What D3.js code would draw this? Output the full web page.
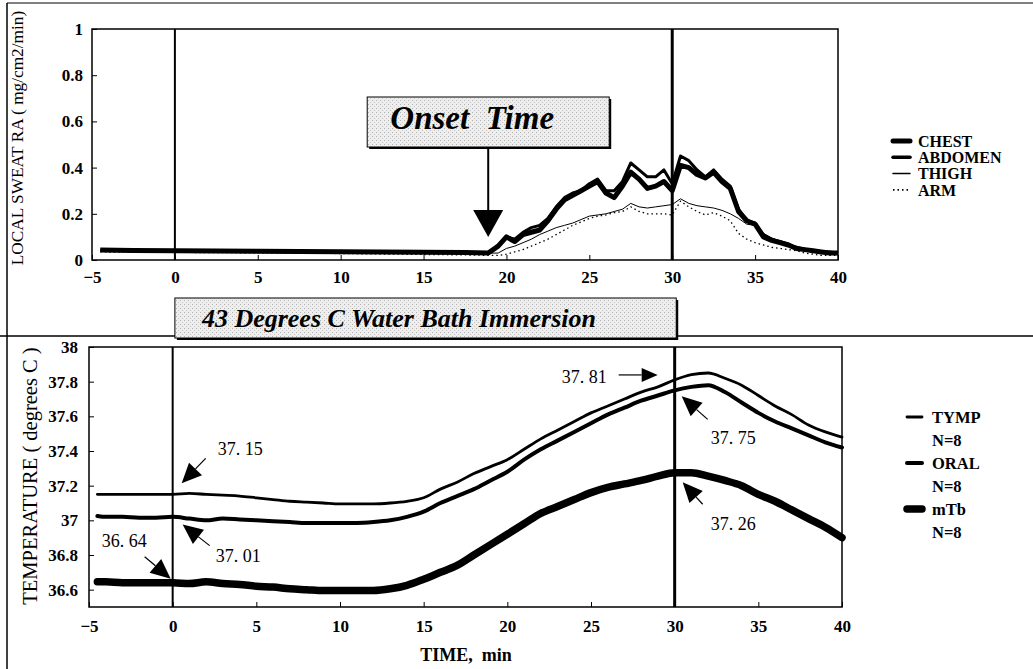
<!DOCTYPE html>
<html>
<head>
<meta charset="utf-8">
<script src="https://cdn.jsdelivr.net/npm/d3@7/dist/d3.min.js"></script>
<style>
  body { margin: 0; background: #fff; }
  svg { display: block; }
</style>
</head>
<body>
<div id="chart"></div>
<script>
// ---------- datos ----------
const sweatTime = [-4.5, -2.5, 0, 2.5, 5, 7.5, 10, 12.5, 15, 17.5, 18.9,
  19.5, 20, 20.5, 21, 21.5, 22, 22.5, 23, 23.5, 24, 24.5, 25, 25.5, 26, 26.5, 27, 27.5, 28, 28.5, 29,
  29.5, 30, 30.5, 31, 31.5, 32, 32.5, 33, 33.5, 34, 34.5, 35, 35.5, 36, 36.5, 37, 37.5, 38, 38.5, 39, 39.5, 40];

const chest = [0.043, 0.041, 0.040, 0.039, 0.038, 0.037, 0.036, 0.035, 0.034, 0.033, 0.030,
  0.06, 0.10, 0.08, 0.11, 0.12, 0.13, 0.17, 0.22, 0.26, 0.28, 0.30, 0.32, 0.34, 0.29, 0.27, 0.32, 0.38, 0.35, 0.31, 0.32,
  0.34, 0.30, 0.41, 0.40, 0.37, 0.355, 0.38, 0.34, 0.31, 0.21, 0.17, 0.155, 0.10, 0.085, 0.075, 0.065, 0.05, 0.045, 0.04, 0.035, 0.03, 0.03];
const abdomen = [0.042, 0.040, 0.039, 0.038, 0.037, 0.036, 0.035, 0.034, 0.033, 0.032, 0.030,
  0.06, 0.10, 0.09, 0.12, 0.14, 0.15, 0.18, 0.23, 0.27, 0.29, 0.30, 0.33, 0.35, 0.30, 0.30, 0.34, 0.42, 0.39, 0.36, 0.36,
  0.39, 0.33, 0.45, 0.43, 0.39, 0.36, 0.39, 0.35, 0.32, 0.22, 0.17, 0.16, 0.11, 0.09, 0.08, 0.07, 0.05, 0.045, 0.04, 0.035, 0.035, 0.03];
const thigh = [0.038, 0.037, 0.036, 0.035, 0.034, 0.033, 0.032, 0.031, 0.030, 0.030, 0.030,
  0.03, 0.05, 0.06, 0.075, 0.09, 0.11, 0.125, 0.14, 0.15, 0.16, 0.175, 0.19, 0.195, 0.20, 0.21, 0.22, 0.245, 0.23, 0.225, 0.23,
  0.235, 0.24, 0.265, 0.245, 0.235, 0.23, 0.225, 0.215, 0.20, 0.18, 0.155, 0.15, 0.115, 0.095, 0.08, 0.07, 0.06, 0.05, 0.04, 0.035, 0.03, 0.03];
const arm = [0.035, 0.034, 0.033, 0.032, 0.031, 0.030, 0.028, 0.026, 0.024, 0.022, 0.020,
  0.02, 0.025, 0.035, 0.045, 0.06, 0.075, 0.09, 0.11, 0.13, 0.15, 0.165, 0.18, 0.19, 0.195, 0.205, 0.21, 0.23, 0.21, 0.20, 0.20,
  0.20, 0.195, 0.255, 0.23, 0.21, 0.195, 0.205, 0.19, 0.17, 0.115, 0.09, 0.075, 0.065, 0.055, 0.05, 0.045, 0.04, 0.03, 0.025, 0.02, 0.02, 0.02];

const tempTime = [-4.5, -4, -3, -2, -1, 0, 1, 2, 3, 4, 5, 6, 7, 8, 9, 10, 11, 12, 13, 14, 15, 16, 17, 18, 19, 20,
  21, 22, 23, 24, 25, 26, 27, 28, 29, 30, 31, 32, 33, 34, 35, 36, 37, 38, 39, 40];
const tymp = [37.15, 37.15, 37.15, 37.15, 37.15, 37.15, 37.155, 37.15, 37.145, 37.14, 37.13, 37.12, 37.11, 37.105, 37.10,
  37.095, 37.095, 37.095, 37.10, 37.11, 37.13, 37.18, 37.22, 37.27, 37.31, 37.35, 37.41, 37.47, 37.52, 37.57, 37.62,
  37.66, 37.70, 37.74, 37.77, 37.81, 37.84, 37.85, 37.82, 37.78, 37.72, 37.66, 37.61, 37.55, 37.51, 37.48];
const oral = [37.025, 37.02, 37.02, 37.015, 37.015, 37.02, 37.01, 37.0, 37.01, 37.005, 37.0, 36.995, 36.99, 36.985, 36.985,
  36.985, 36.985, 36.99, 37.0, 37.02, 37.05, 37.10, 37.14, 37.18, 37.23, 37.28, 37.35, 37.41, 37.46, 37.51, 37.56,
  37.61, 37.65, 37.69, 37.72, 37.75, 37.77, 37.78, 37.74, 37.68, 37.62, 37.57, 37.53, 37.49, 37.45, 37.42];
const mtb = [36.645, 36.645, 36.64, 36.64, 36.64, 36.64, 36.635, 36.645, 36.635, 36.63, 36.62, 36.615, 36.605, 36.60, 36.595,
  36.595, 36.595, 36.595, 36.605, 36.625, 36.66, 36.70, 36.74, 36.80, 36.86, 36.92, 36.98, 37.04, 37.08, 37.12, 37.16,
  37.19, 37.21, 37.23, 37.255, 37.275, 37.275, 37.255, 37.23, 37.20, 37.15, 37.11, 37.06, 37.01, 36.96, 36.90];

const timeTicks = [-5, 0, 5, 10, 15, 20, 25, 30, 35, 40];
const sweatTicks = [0, 0.2, 0.4, 0.6, 0.8, 1];
const tempTicks = [36.6, 36.8, 37, 37.2, 37.4, 37.6, 37.8, 38];
const markLines = [0, 30];   // inicio y fin de la inmersion
const onsetTime = 18.9;

// anotaciones de la grafica de temperatura
const tempNotes = [
  { label: "37. 15", t: 0, v: 37.15 },
  { label: "37. 01", t: 0, v: 37.01 },
  { label: "36. 64", t: 0, v: 36.64 },
  { label: "37. 81", t: 30, v: 37.81 },
  { label: "37. 75", t: 30, v: 37.75 },
  { label: "37. 26", t: 30, v: 37.26 }
];
// desplazamientos en px: punta, cola de la flecha y texto
const noteOffsets = [
  { tip: [9, -11], tail: [33, -36], text: [45, -39] },
  { tip: [10, 6], tail: [37, 27], text: [43, 43] },
  { tip: [-2, -4], tail: [-28, -26], text: [-71, -36] },
  { tip: [-17, -5], tail: [-56, -5], text: [-113, 3] },
  { tip: [7, 6], tail: [33, 29], text: [36, 54] },
  { tip: [8, 7], tail: [28, 29], text: [36, 55] }
];

// ---------- svg ----------
const W = 1033, H = 669;
const serif = '"Liberation Serif", "Times New Roman", Times, serif';
const svg = d3.select("#chart").append("svg")
  .attr("width", W).attr("height", H)
  .style("font-family", serif);

// trama gris de los recuadros
const pat = svg.append("defs").append("pattern")
  .attr("id", "screen").attr("width", 4).attr("height", 4)
  .attr("patternUnits", "userSpaceOnUse");
pat.append("rect").attr("width", 4).attr("height", 4).attr("fill", "#eeeeee");
pat.append("rect").attr("width", 1).attr("height", 1).attr("fill", "#b0b0b0");
pat.append("rect").attr("x", 2).attr("y", 2).attr("width", 1).attr("height", 1).attr("fill", "#c6c6c6");

// marco exterior y separador
svg.append("line").attr("x1", 7).attr("y1", 3).attr("x2", 7).attr("y2", H).attr("stroke", "#000").attr("stroke-width", 1.5);
svg.append("line").attr("x1", 7).attr("y1", 3).attr("x2", W).attr("y2", 3).attr("stroke", "#000").attr("stroke-width", 1);
svg.append("line").attr("x1", 0).attr("y1", 336).attr("x2", W).attr("y2", 336).attr("stroke", "#000").attr("stroke-width", 1.5);

// ---------- escalas ----------
const x1 = d3.scaleLinear().domain([-5, 40]).range([92, 838]);
const y1 = d3.scaleLinear().domain([0, 1]).range([260, 29]);
const x2 = d3.scaleLinear().domain([-5, 40]).range([89, 842]);
const y2 = d3.scaleLinear().domain([36.5, 38]).range([607, 347]);

const drawFrame = (x, y) => {
  svg.append("rect")
    .attr("x", x.range()[0]).attr("y", y.range()[1])
    .attr("width", x.range()[1] - x.range()[0])
    .attr("height", y.range()[0] - y.range()[1])
    .attr("fill", "none").attr("stroke", "#000").attr("stroke-width", 1.5);
};

const drawAxes = (x, y, yTicks, yFmt, padX, padY) => {
  const gx = svg.append("g")
    .attr("transform", `translate(0,${y.range()[0]})`)
    .call(d3.axisBottom(x).tickValues(timeTicks).tickSize(-5).tickPadding(padX).tickFormat(d3.format("")));
  const gy = svg.append("g")
    .attr("transform", `translate(${x.range()[0]},0)`)
    .call(d3.axisLeft(y).tickValues(yTicks).tickSize(-5).tickPadding(padY).tickFormat(yFmt));
  [gx, gy].forEach(g => {
    g.select(".domain").remove();
    g.selectAll("line").attr("stroke", "#000").attr("stroke-width", 1);
    g.selectAll("text").attr("font-family", serif).attr("font-size", 17)
      .attr("font-weight", "bold").attr("fill", "#000");
  });
};

const drawMarks = (x, y) => {
  markLines.forEach((t, i) => {
    svg.append("line")
      .attr("x1", x(t)).attr("x2", x(t))
      .attr("y1", y.range()[1]).attr("y2", y.range()[0])
      .attr("stroke", "#000").attr("stroke-width", i === 0 ? 2 : 3);
  });
};

// ---------- grafica superior: sudoracion local ----------
drawFrame(x1, y1);
drawAxes(x1, y1, sweatTicks, d3.format(""), 11, 9);
drawMarks(x1, y1);

const sweatSeries = [
  { name: "ARM", values: arm, width: 1.3, dash: "1.5,3" },
  { name: "THIGH", values: thigh, width: 1, dash: null },
  { name: "CHEST", values: chest, width: 5, dash: null },
  { name: "ABDOMEN", values: abdomen, width: 3, dash: null }
];
const sweatLine = d3.line().x(d => x1(d[0])).y(d => y1(d[1]));
sweatSeries.forEach(s => {
  svg.append("path")
    .datum(sweatTime.map((t, i) => [t, s.values[i]]))
    .attr("d", sweatLine)
    .attr("fill", "none").attr("stroke", "#000")
    .attr("stroke-width", s.width)
    .attr("stroke-linejoin", "round")
    .attr("stroke-dasharray", s.dash);
});

// leyenda superior
const sweatLegend = ["CHEST", "ABDOMEN", "THIGH", "ARM"];
sweatLegend.forEach((name, i) => {
  const s = sweatSeries.find(d => d.name === name);
  const ly = 141 + i * 16.3;
  svg.append("line").attr("x1", 893).attr("x2", 910).attr("y1", ly).attr("y2", ly)
    .attr("stroke", "#000").attr("stroke-width", name === "CHEST" ? 5 : s.width + 0.5)
    .attr("stroke-linecap", s.dash ? "butt" : "round")
    .attr("stroke-dasharray", s.dash);
  svg.append("text").attr("x", 918).attr("y", ly).attr("dy", "0.35em")
    .attr("font-size", 16).attr("font-weight", "bold").text(name);
});

// recuadro "Onset Time" y flecha
const ox = x1(onsetTime);
const onset = svg.append("g");
onset.append("rect").attr("x", ox - 119).attr("y", 99).attr("width", 242).attr("height", 50).attr("fill", "#000");
onset.append("rect").attr("x", ox - 121).attr("y", 97).attr("width", 242).attr("height", 50)
  .attr("fill", "url(#screen)").attr("stroke", "#000").attr("stroke-width", 1);
onset.append("text").attr("x", ox - 16).attr("y", 129).attr("text-anchor", "middle")
  .attr("font-size", 33).attr("font-weight", "bold").attr("font-style", "italic")
  .attr("xml:space", "preserve").text("Onset  Time");
onset.append("line").attr("x1", ox).attr("x2", ox).attr("y1", 149).attr("y2", 212)
  .attr("stroke", "#000").attr("stroke-width", 2);
onset.append("path")
  .attr("d", `M${ox - 15},210 L${ox + 15},210 L${ox},${y1(0.1)} Z`).attr("fill", "#000");

// recuadro de la inmersion
const bath = svg.append("g");
bath.append("rect").attr("x", x1(0) + 2).attr("y", 300).attr("width", x1(30) - x1(0) + 4).attr("height", 40).attr("fill", "#000");
bath.append("rect").attr("x", x1(0)).attr("y", 298).attr("width", x1(30) - x1(0) + 4).attr("height", 40)
  .attr("fill", "url(#screen)").attr("stroke", "#000").attr("stroke-width", 1);
bath.append("text").attr("x", x1(0) + 27).attr("y", 327)
  .attr("font-size", 26).attr("font-weight", "bold").attr("font-style", "italic")
  .text("43 Degrees C Water Bath Immersion");

// ---------- grafica inferior: temperatura ----------
drawFrame(x2, y2);
drawAxes(x2, y2, tempTicks, d => String(+d.toFixed(1)), 13, 11);
drawMarks(x2, y2);

const tempSeries = [
  { name: "TYMP", values: tymp, width: 2.8 },
  { name: "ORAL", values: oral, width: 4 },
  { name: "mTb", values: mtb, width: 7.5 }
];
const tempLine = d3.line().x(d => x2(d[0])).y(d => y2(d[1])).curve(d3.curveMonotoneX);
tempSeries.forEach(s => {
  svg.append("path")
    .datum(tempTime.map((t, i) => [t, s.values[i]]))
    .attr("d", tempLine)
    .attr("fill", "none").attr("stroke", "#000")
    .attr("stroke-width", s.width)
    .attr("stroke-linejoin", "round").attr("stroke-linecap", "round");
});

// leyenda inferior
tempSeries.forEach((s, i) => {
  const ly = 417 + i * 46;
  svg.append("line").attr("x1", 907).attr("x2", 922).attr("y1", ly).attr("y2", ly)
    .attr("stroke", "#000").attr("stroke-width", s.width).attr("stroke-linecap", "round");
  svg.append("text").attr("x", 932).attr("y", ly).attr("dy", "0.35em")
    .attr("font-size", 16.5).attr("font-weight", "bold").text(s.name);
  svg.append("text").attr("x", 932).attr("y", ly + 23).attr("dy", "0.35em")
    .attr("font-size", 16.5).attr("font-weight", "bold").text("N=8");
});

// flechas de anotacion
const arrow = (tail, tip, head, half) => {
  const dx = tip[0] - tail[0], dy = tip[1] - tail[1];
  const len = Math.hypot(dx, dy), ux = dx / len, uy = dy / len;
  const bx = tip[0] - ux * head, by = tip[1] - uy * head;
  svg.append("line").attr("x1", tail[0]).attr("y1", tail[1]).attr("x2", bx).attr("y2", by)
    .attr("stroke", "#000").attr("stroke-width", 1.2);
  svg.append("path")
    .attr("d", `M${tip[0]},${tip[1]} L${bx - uy * half},${by + ux * half} L${bx + uy * half},${by - ux * half} Z`)
    .attr("fill", "#000");
};
tempNotes.forEach((n, i) => {
  const o = noteOffsets[i];
  const px = x2(n.t), py = y2(n.v);
  const tip = [px + o.tip[0], py + o.tip[1]];
  const tail = [px + o.tail[0], py + o.tail[1]];
  arrow(tail, tip, i === 3 ? 16 : 20, i === 3 ? 7 : 9);
  svg.append("text").attr("x", px + o.text[0]).attr("y", py + o.text[1])
    .attr("font-size", 18).attr("xml:space", "preserve").text(n.label);
});

// titulos de ejes
svg.append("text")
  .attr("transform", "translate(23,138) rotate(-90)")
  .attr("text-anchor", "middle").attr("font-size", 17.3)
  .attr("xml:space", "preserve")
  .text("LOCAL SWEAT RA ( mg/cm2/min)");
svg.append("text")
  .attr("transform", "translate(37,476) rotate(-90)")
  .attr("text-anchor", "middle").attr("font-size", 20.5)
  .attr("xml:space", "preserve")
  .text("TEMPERATURE ( degrees C )");
svg.append("text")
  .attr("x", 466).attr("y", 661).attr("text-anchor", "middle")
  .attr("font-size", 18).attr("font-weight", "bold")
  .attr("xml:space", "preserve")
  .text("TIME,  min");
</script>
</body>
</html>
